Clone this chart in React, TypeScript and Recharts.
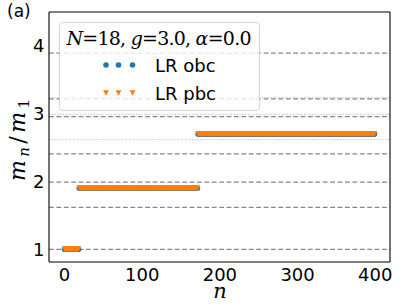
import React from 'react';
import { ComposedChart, Scatter, XAxis, YAxis, ReferenceLine, Legend } from 'recharts';

const xTicks = [0, 100, 200, 300, 400];
const yTicks = [1, 2, 3, 4];

// each plateau: first n, last n, level
const plateauStart = [0, 19, 172];
const plateauEnd = [18, 171, 399];
const obcLevels = [1.0, 1.9, 2.7];
const pbcLevels = [1.0, 1.9, 2.7];

// E8 mass ratios (dashed) and two-particle thresholds (dotted)
const e8Ratios = [1, 1.618, 1.989, 2.405, 2.956, 3.218, 3.891];
const thresholdRatios = [2.618, 2.989, 3.236];

const BLUE = '#1f77b4';
const ORANGE = '#ff7f0e';

const buildSeries = (levels: number[]) => {
  const rows: { n: number; m: number }[] = [];
  levels.forEach((v, i) => {
    for (let n = plateauStart[i]; n <= plateauEnd[i]; n++) rows.push({ n, m: v });
  });
  return rows;
};

const obcData = buildSeries(obcLevels);
const pbcData = buildSeries(pbcLevels);

const Dot = (props: any) => <circle cx={props.cx} cy={props.cy} r={2.8} fill={BLUE} />;
const Tri = (props: any) => {
  const { cx, cy } = props;
  return <polygon points={`${cx - 2.9},${cy - 2.7} ${cx + 2.9},${cy - 2.7} ${cx},${cy + 2.7}`} fill={ORANGE} />;
};

const renderLegend = () => (
  <div
    style={{
      width: 201,
      height: 89,
      boxSizing: 'border-box',
      border: '1px solid #d4d4d4',
      borderRadius: 4,
      background: 'rgba(255,255,255,0.8)',
    }}
  >
    <svg width={201} height={89} style={{ display: 'block', position: 'absolute', left: 0, top: 0 }}>
      <text x={100} y={22.5} textAnchor="middle" fontFamily="DejaVu Serif" fontSize={19} textLength={185} lengthAdjust="spacing">
        <tspan fontStyle="italic">N</tspan>=18, <tspan fontStyle="italic">g</tspan>=3.0, <tspan fontStyle="italic">α</tspan>=0.0
      </text>
      {[47, 59.5, 73.5].map((x) => (
        <circle key={'c' + x} cx={x} cy={43} r={2.8} fill={BLUE} />
      ))}
      <text x={96} y={49.5} fontFamily="DejaVu Sans" fontSize={18} fill="#000">LR obc</text>
      {[47, 59.5, 73.5].map((x) => (
        <polygon key={'t' + x} points={`${x - 2.9},${68.3} ${x + 2.9},${68.3} ${x},${73.7}`} fill={ORANGE} />
      ))}
      <text x={96} y={77.5} fontFamily="DejaVu Sans" fontSize={18} fill="#000">LR pbc</text>
    </svg>
  </div>
);

const YLabel = () => (
  <text transform="translate(25,140) rotate(-90)" textAnchor="middle" fontFamily="DejaVu Serif" fontSize={22} fill="#000" textLength={82} lengthAdjust="spacing">
    <tspan fontStyle="italic">m</tspan>
    <tspan fontStyle="italic" fontSize={15} dy={4}>n</tspan>
    <tspan dy={-4}>/</tspan>
    <tspan fontStyle="italic">m</tspan>
    <tspan fontSize={15} dy={4}>1</tspan>
  </text>
);

const XLabel = () => (
  <text x={220} y={298} textAnchor="middle" fontFamily="DejaVu Serif" fontStyle="italic" fontSize={21} fill="#000">
    n
  </text>
);

const tickStyle = { fill: '#000', fontSize: 18, fontFamily: 'DejaVu Sans' };
const frame = { stroke: '#000', strokeWidth: 1.1 };

export default function App() {
  return (
    <div style={{ position: 'absolute', left: 0, top: 0, width: 407, height: 305, background: '#fff' }}>
      <div style={{ position: 'absolute', left: 7, top: 1, fontFamily: 'DejaVu Sans', fontSize: 17, zIndex: 2 }}>(a)</div>
      <ComposedChart width={407} height={305} margin={{ top: 12, right: 17, bottom: 0, left: 0 }}>
        <XAxis
          xAxisId="b"
          dataKey="n"
          type="number"
          domain={[-20, 419]}
          ticks={xTicks}
          allowDataOverflow
          height={43}
          tickLine={false}
          tickSize={3.5}
          tickMargin={3}
          axisLine={frame}
          tick={tickStyle}
          label={<XLabel />}
        />
        <XAxis xAxisId="bIn" type="number" domain={[-20, 419]} ticks={xTicks} allowDataOverflow mirror height={20} tick={false} axisLine={false} tickLine={frame} tickSize={3.5} />
        <XAxis xAxisId="t" orientation="top" type="number" domain={[-20, 419]} ticks={xTicks} allowDataOverflow mirror height={20} tick={false} axisLine={frame} tickLine={frame} tickSize={3.5} />
        <YAxis
          yAxisId="l"
          dataKey="m"
          type="number"
          domain={[0.813, 4.497]}
          ticks={yTicks}
          allowDataOverflow
          width={49}
          tickLine={false}
          tickSize={3}
          tickMargin={1.5}
          axisLine={frame}
          tick={tickStyle}
          label={<YLabel />}
        />
        <YAxis yAxisId="lIn" type="number" domain={[0.813, 4.497]} ticks={yTicks} allowDataOverflow mirror width={20} tick={false} axisLine={false} tickLine={frame} tickSize={3.5} />
        <YAxis yAxisId="r" orientation="right" type="number" domain={[0.813, 4.497]} ticks={yTicks} allowDataOverflow mirror width={20} tick={false} axisLine={frame} tickLine={frame} tickSize={3.5} />
        {thresholdRatios.map((v) => (
          <ReferenceLine key={'th' + v} xAxisId="b" yAxisId="l" y={v} stroke="#c4c4c4" strokeWidth={1.1} strokeDasharray="1.2 1.6" />
        ))}
        {e8Ratios.map((v) => (
          <ReferenceLine key={'e8' + v} xAxisId="b" yAxisId="l" y={v} stroke="#878787" strokeWidth={1.2} strokeDasharray="4.8 2.6" />
        ))}
        <Scatter name="LR obc" data={obcData} xAxisId="b" yAxisId="l" dataKey="m" shape={Dot} isAnimationActive={false} />
        <Scatter name="LR pbc" data={pbcData} xAxisId="b" yAxisId="l" dataKey="m" shape={Tri} isAnimationActive={false} />
        <Legend
          layout="horizontal"
          verticalAlign="middle"
          align="center"
          content={renderLegend}
          wrapperStyle={{ left: 59, top: 22, width: 201, height: 89 }}
        />
      </ComposedChart>
    </div>
  );
}
